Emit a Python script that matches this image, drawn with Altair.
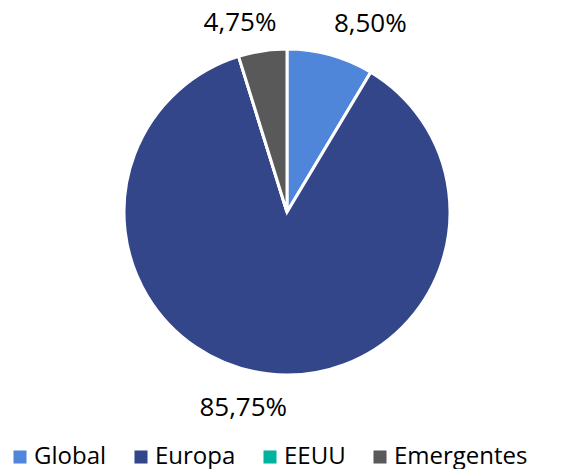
import altair as alt
import pandas as pd

categories = ["Global", "Europa", "EEUU", "Emergentes"]
values = [8.50, 85.75, 0.0, 4.75]
colors = ["#4F86DA", "#34468A", "#00B39F", "#595959"]

df = pd.DataFrame({
    "cat": categories,
    "val": values,
    "order": list(range(len(categories))),
    "label": [f"{v:.2f}".replace(".", ",") + "%" for v in values],
})
total = float(sum(values))

FONT = "Open Sans"
# label nudges (style only)
nudges = {"Global": (30, 5), "Europa": (-20, -3), "Emergentes": (-17, 9)}

theta_scale = alt.Scale(domain=[0, total])

arc = alt.Chart(df).mark_arc(outerRadius=163, stroke="white", strokeWidth=3).encode(
    theta=alt.Theta("val:Q", stack=True, scale=theta_scale),
    order=alt.Order("order:Q"),
    color=alt.Color(
        "cat:N",
        scale=alt.Scale(domain=categories, range=colors),
        sort=categories,
        legend=alt.Legend(
            title=None,
            orient="none",
            legendX=0,
            legendY=437,
            padding=0,
            direction="horizontal",
            symbolType="square",
            symbolSize=170,
            symbolStrokeWidth=0,
            labelFont=FONT,
            labelFontSize=24,
            labelColor="#000000",
            columnPadding=22,
            labelOffset=2,
        ),
    ),
)

stacked = alt.Chart(df).transform_window(
    cum="sum(val)", sort=[alt.SortField("order")]
).transform_calculate(mid="datum.cum - datum.val / 2")

texts = [
    stacked.transform_filter(f"datum.cat == '{c}'").mark_text(
        radius=200, font=FONT, fontSize=26, color="#000000", dx=dx, dy=dy
    ).encode(
        theta=alt.Theta("mid:Q", scale=theta_scale),
        text="label:N",
    )
    for c, (dx, dy) in nudges.items()
]

chart = alt.layer(arc, *texts).properties(
    width=558, height=408, padding=0
).configure_view(stroke=None)

chart.save("out.html", embed_options={"renderer": "svg", "actions": False})
